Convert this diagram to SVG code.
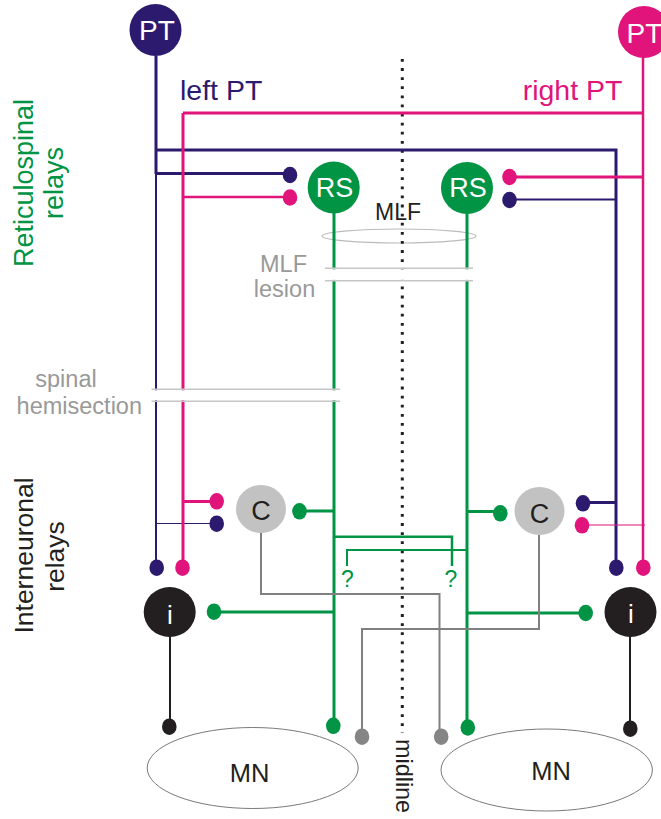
<svg xmlns="http://www.w3.org/2000/svg" width="661" height="819" viewBox="0 0 661 819">
<style>
text{font-family:"Liberation Sans",Arial,sans-serif}
.nv{stroke:#2c1a6f;fill:none}
.pk{stroke:#e0147b;fill:none}
.gr{stroke:#009444;fill:none}
.gy{stroke:#808080;fill:none;stroke-width:2}
.bk{stroke:#231f20;fill:none;stroke-width:2}
.w3{stroke-width:3}
.w25{stroke-width:2.5}
.w2{stroke-width:2}
.w1{stroke-width:1.2}
.dn{fill:#2c1a6f}.dp{fill:#e0147b}.dg{fill:#009444}.dk{fill:#231f20}.dy{fill:#858585}
.lbl{font-size:23.5px;fill:#999;text-anchor:middle}
.cut{stroke:#c6c6c6;stroke-width:1.5;fill:none}
.wt{fill:#fff;text-anchor:middle}
</style>
<g id="mn-left"><ellipse cx="252.7" cy="768" rx="105.5" ry="40.5" fill="#fff" stroke="#7a7a7a" stroke-width="1"/><text x="249.5" y="781.5" font-size="25.5" fill="#231f20" text-anchor="middle">MN</text></g>
<g id="mn-right"><ellipse cx="546.7" cy="770" rx="105.7" ry="41" fill="#fff" stroke="#7a7a7a" stroke-width="1"/><text x="551" y="780" font-size="25.5" fill="#231f20" text-anchor="middle">MN</text></g>
<g id="mlf"><ellipse cx="399" cy="236" rx="77" ry="7" fill="none" stroke="#bbb" stroke-width="1.2"/><text x="398" y="220" font-size="23" fill="#231f20" text-anchor="middle">MLF</text></g>
<line id="midline-axis" x1="402.3" y1="59" x2="402.3" y2="733" stroke="#231f20" stroke-width="3" stroke-dasharray="2.8 6.3"/>
<g id="connectors">
<path class="nv w3" d="M156,56V174M156,150H616V568M156,173.5H290M616,502.5H583"/>
<path class="nv w2" d="M156,174V568M616,199.5H509"/>
<path class="nv w1" d="M156,523.5H217"/>
<path class="pk w25" d="M643,57V568M183,197H290"/>
<path class="pk w3" d="M183,113H643M183,113V568M643,177H509M183,501.5H217"/>
<path class="pk w1" d="M645,525H582"/>
<path class="gr w3" d="M334,200V726M467,200V727M299,511H334M467,511.5H500M214,612H334M467,613H586"/>
<path class="gy" d="M261,532V594H439.5V737M539,535V629H362V737"/>
<path class="gr w25" d="M334,536.7H452V566"/>
<path class="gr w2" d="M467,550H347V566"/>
<path class="bk" d="M170,636V727M630,636V729"/>
<g id="dots">
<ellipse class="dn" cx="290" cy="175" rx="7.3" ry="8.3"/><ellipse class="dn" cx="509.5" cy="200" rx="7.3" ry="8.3"/><ellipse class="dn" cx="583" cy="503.3" rx="7.3" ry="8.3"/><ellipse class="dn" cx="216.7" cy="523.7" rx="7.3" ry="8.3"/><ellipse class="dn" cx="156.7" cy="567.7" rx="7.3" ry="8.3"/><ellipse class="dn" cx="616.3" cy="567.7" rx="7.3" ry="8.3"/>
<ellipse class="dp" cx="290" cy="197.5" rx="7.3" ry="8.3"/><ellipse class="dp" cx="509.5" cy="177" rx="7.3" ry="8.3"/><ellipse class="dp" cx="216.7" cy="501.3" rx="7.3" ry="8.3"/><ellipse class="dp" cx="582" cy="525.3" rx="7.3" ry="8.3"/><ellipse class="dp" cx="182.5" cy="567.7" rx="7.3" ry="8.3"/><ellipse class="dp" cx="643.3" cy="567.7" rx="7.3" ry="8.3"/>
<ellipse class="dg" cx="299.5" cy="511.3" rx="7.3" ry="8.3"/><ellipse class="dg" cx="500.3" cy="513.3" rx="7.3" ry="8.3"/><ellipse class="dg" cx="214" cy="611.7" rx="7.3" ry="8.3"/><ellipse class="dg" cx="585.7" cy="613" rx="7.3" ry="8.3"/><ellipse class="dg" cx="333.3" cy="725.8" rx="7.3" ry="8.3"/><ellipse class="dg" cx="467.8" cy="727.5" rx="7.3" ry="8.3"/>
<ellipse class="dy" cx="362" cy="736.7" rx="7.3" ry="8.3"/><ellipse class="dy" cx="441.2" cy="736.7" rx="7.3" ry="8.3"/>
<ellipse class="dk" cx="169.3" cy="726.7" rx="7.3" ry="8.3"/><ellipse class="dk" cx="630.3" cy="728.7" rx="7.3" ry="8.3"/>
</g>
<text x="347.5" y="587" font-size="23" fill="#009444" text-anchor="middle">?</text>
<text x="451" y="587" font-size="23" fill="#009444" text-anchor="middle">?</text>
</g>
<g id="mlf-lesion">
<rect x="320" y="269.3" width="158" height="10.6" fill="#fff"/>
<path class="cut" d="M325,268.3H473M325,280.7H473"/>
<text class="lbl" x="283.5" y="271.7">MLF</text><text class="lbl" x="284.5" y="297">lesion</text>
</g>
<g id="spinal-hemisection">
<rect x="148" y="390.3" width="193" height="10" fill="#fff"/>
<path class="cut" d="M151.5,389.3H340M151.5,401.3H340"/>
<text class="lbl" x="66" y="386.7">spinal</text><text class="lbl" x="79.3" y="414">hemisection</text>
</g>
<g id="pt-left"><circle cx="155.5" cy="30" r="26" fill="#2c1a6f"/><text class="wt" x="157" y="40" font-size="28">PT</text></g>
<g id="pt-right"><circle cx="644" cy="32" r="26" fill="#e0147b"/><text class="wt" x="644.5" y="42.5" font-size="28">PT</text></g>
<g id="rs-left"><circle cx="333.7" cy="187.5" r="26" fill="#009444"/><text class="wt" x="334.5" y="196.7" font-size="27">RS</text></g>
<g id="rs-right"><circle cx="467" cy="188" r="26" fill="#009444"/><text class="wt" x="468" y="197" font-size="27">RS</text></g>
<g id="c-left"><ellipse cx="261" cy="509" rx="25" ry="24" fill="#c2c2c2"/><text x="261" y="520" font-size="27" fill="#231f20" text-anchor="middle">C</text></g>
<g id="c-right"><ellipse cx="539.5" cy="511" rx="25" ry="24" fill="#c2c2c2"/><text x="539.5" y="522.5" font-size="27" fill="#231f20" text-anchor="middle">C</text></g>
<g id="i-left"><ellipse cx="169.7" cy="612" rx="26" ry="25" fill="#231f20"/><text class="wt" x="170" y="624" font-size="26">i</text></g>
<g id="i-right"><ellipse cx="630.5" cy="612" rx="26" ry="25" fill="#231f20"/><text class="wt" x="631" y="623" font-size="26">i</text></g>
<g id="labels">
<text x="180" y="100" font-size="28.5" fill="#2c1a6f">left PT</text>
<text x="522.7" y="99.5" font-size="28.5" fill="#e0147b">right PT</text>
<text transform="translate(396,739) rotate(90)" font-size="23.4" fill="#231f20">midline</text>
<text transform="translate(33,183) rotate(-90)" font-size="27" fill="#009444" text-anchor="middle">Reticulospinal</text>
<text transform="translate(62.5,183) rotate(-90)" font-size="27" fill="#009444" text-anchor="middle">relays</text>
<text transform="translate(33,555.5) rotate(-90)" font-size="26.5" fill="#231f20" text-anchor="middle">Interneuronal</text>
<text transform="translate(64,556.5) rotate(-90)" font-size="26.5" fill="#231f20" text-anchor="middle">relays</text>
</g>
</svg>
